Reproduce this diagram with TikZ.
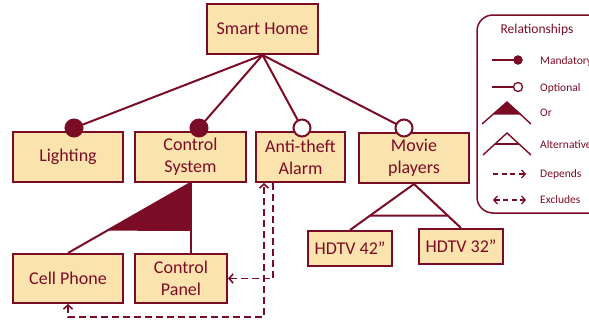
\documentclass[tikz,border=0pt]{standalone}
\usepackage{fontspec}
\setmainfont{Carlito}
\usetikzlibrary{arrows.meta,calc}
\definecolor{maroon}{HTML}{7B0C25}
\definecolor{peach}{HTML}{FBE3AE}
\tikzset{
  feat/.style={draw=maroon,fill=peach,line width=2pt,inner sep=0pt,align=center,
    text=maroon,font=\fontsize{18}{22}\selectfont},
  conn/.style={draw=maroon,line width=2pt},
  mand/.style={circle,draw=maroon,fill=maroon,line width=2pt,minimum size=17pt,inner sep=0pt},
  opt/.style={circle,draw=maroon,fill=white,line width=2pt,minimum size=17pt,inner sep=0pt},
  dep/.style={draw=maroon,line width=1.8pt,dash pattern=on 7pt off 4pt},
  barb/.tip={Straight Barb[length=4pt,width=9pt,line width=1.6pt]},
  legtxt/.style={text=maroon,anchor=west,inner sep=0pt,font=\fontsize{11.5}{13}\selectfont},
  legline/.style={draw=maroon,line width=1.4pt},
}
\begin{document}
\begin{tikzpicture}[x=1pt,y=-1pt]
\useasboundingbox (0,0) rectangle (589,324);
\clip (0,0) rectangle (589,324);
% feature boxes
\node[feat,minimum width=111pt,minimum height=50pt] (sh) at (262.5,29) {Smart Home};
\node[feat,minimum width=110pt,minimum height=50pt] (li) at (68,157) {Lighting};
\node[feat,minimum width=111pt,minimum height=50pt] (cs) at (190.5,157) {Control\\System};
\node[feat,minimum width=89pt,minimum height=50pt] (al) at (300.5,157) {Anti-theft\\Alarm};
\node[feat,minimum width=110pt,minimum height=50pt] (mv) at (414,158) {Movie\\players};
\node[feat,minimum width=110pt,minimum height=49pt] (cell) at (68,278.5) {Cell Phone};
\node[feat,minimum width=92pt,minimum height=49pt] (cp) at (181,278.5) {Control\\Panel};
\node[feat,minimum width=84pt,minimum height=35pt] (h42) at (350,248.5) {HDTV 42”};
\node[feat,minimum width=84pt,minimum height=35pt] (h32) at (461,246.5) {HDTV 32”};
% relationship markers
\coordinate (m1) at (74,128);
\coordinate (m2) at (199,128);
\coordinate (o1) at (302,128);
\coordinate (o2) at (404,128);
\draw[conn] (sh.south) -- (m1);
\draw[conn] (sh.south) -- (m2);
\draw[conn] (sh.south) -- (o1);
\draw[conn] (sh.south) -- (o2);
\node[mand] (cm1) at (m1) {};
\node[mand] (cm2) at (m2) {};
\node[opt] (co1) at (o1) {};
\node[opt] (co2) at (o2) {};
% Or group
\fill[maroon] (cs.south) -- ($(cs.south)!0.68!(cell.north)$) -- (cs.south |- 0,231) -- cycle;
\draw[conn] (cs.south) -- (cell.north);
\draw[conn] (cs.south) -- (cs.south |- cp.north);
% Alternative group
\draw[conn] (h42.north) -- (mv.south) -- (h32.north);
\draw[conn] ($(mv.south)!0.6875!(h42.north)$) -- ($(mv.south)!0.717!(h32.north)$);
% depends
\draw[dep,-barb] ([xshift=-27.5pt]al.south) |- (cp.east);
% excludes
\draw[dep,barb-barb] (cell.south) -- ++(0,13) -| ([xshift=-36.5pt]al.south);
% legend
\draw[maroon,line width=1.5pt,rounded corners=16pt] (477,15) rectangle (610,213);
\node[text=maroon,font=\fontsize{13.5}{15}\selectfont] (lt) at (537,30) {Relationships};
\draw[legline] (492,60) -- (518,60);
\node[circle,fill=maroon,draw=maroon,minimum size=9pt,inner sep=0pt] (lm) at (518,60) {};
\node[legtxt] (ltm) at (540,61) {Mandatory};
\draw[legline] (492,87) -- (518,87);
\node[circle,fill=white,draw=maroon,line width=1.3pt,minimum size=9pt,inner sep=0pt] (lo) at (518,87) {};
\node[legtxt] (lto) at (540,88) {Optional};
\fill[maroon] (507,102) -- (492.5,114.5) -- (521.5,114.5) -- cycle;
\draw[legline] (482,124) -- (507,102) -- (531,124);
\node[legtxt] (ltr) at (540,113) {Or};
\draw[legline] (483,155) -- (507,133) -- (531,155);
\draw[legline] (495,144) -- (519,144);
\node[legtxt] (lta) at (540,145) {Alternative};
\draw[maroon,line width=1.3pt,dash pattern=on 5pt off 3.5pt,-{Straight Barb[length=3.5pt,width=8pt,line width=1.3pt]}] (493,174) -- (526,174);
\node[legtxt] (ltd) at (540,174) {Depends};
\draw[maroon,line width=1.3pt,dash pattern=on 5pt off 3.5pt,{Straight Barb[length=3.5pt,width=8pt,line width=1.3pt]}-{Straight Barb[length=3.5pt,width=8pt,line width=1.3pt]}] (493,200) -- (526,200);
\node[legtxt] (lte) at (540,200) {Excludes};
\end{tikzpicture}
\end{document}
